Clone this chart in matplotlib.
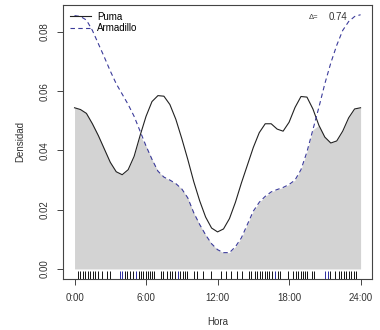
import numpy as np
import matplotlib
matplotlib.use('Agg')
import matplotlib.pyplot as plt

plt.rcParams['font.family'] = ['Liberation Sans', 'DejaVu Sans']

hours = np.arange(0, 24.5, 0.5)

# Puma density, read every half hour
puma = [0.0544, 0.0538, 0.0525, 0.0490, 0.0450, 0.0405, 0.0360, 0.0328, 0.0318, 0.0335,
        0.0380, 0.0450, 0.0515, 0.0565, 0.0585, 0.0583, 0.0555, 0.0505, 0.0440, 0.0370,
        0.0295, 0.0230, 0.0175, 0.0138, 0.0125, 0.0135, 0.0170, 0.0225, 0.0290, 0.0350,
        0.0410, 0.0460, 0.0490, 0.0490, 0.0472, 0.0465, 0.0495, 0.0545, 0.0582, 0.0580,
        0.0540, 0.0485, 0.0445, 0.0425, 0.0432, 0.0465, 0.0510, 0.0540, 0.0544]

# Armadillo density, read every half hour
armadillo = [0.0855, 0.0852, 0.0840, 0.0805, 0.0760, 0.0715, 0.0668, 0.0625, 0.0590, 0.0555,
             0.0515, 0.0465, 0.0415, 0.0370, 0.0330, 0.0310, 0.0300, 0.0288, 0.0270, 0.0240,
             0.0190, 0.0150, 0.0115, 0.0085, 0.0065, 0.0055, 0.0055, 0.0075, 0.0105, 0.0150,
             0.0195, 0.0225, 0.0245, 0.0260, 0.0268, 0.0275, 0.0285, 0.0300, 0.0335, 0.0395,
             0.0470, 0.0545, 0.0625, 0.0695, 0.0755, 0.0805, 0.0835, 0.0852, 0.0858]

# detection times (rug), in hours
puma_times = [0.28, 0.5, 0.72, 0.92, 1.11, 1.33, 1.56, 1.75, 1.94, 2.31, 2.72, 3.0,
              4.25, 4.44, 4.67, 4.94, 5.42, 5.61, 5.78, 6.0, 6.14, 6.33, 6.53, 6.67,
              7.22, 7.44, 7.72, 7.97, 8.17, 8.39, 8.89, 9.08, 9.28, 9.44, 10.06, 10.28,
              10.75, 11.44, 12.28, 12.69, 13.11, 13.67, 14.08, 14.64, 14.83, 15.11, 15.33,
              15.56, 15.75, 15.94, 16.14, 16.33, 16.56, 17.06, 17.25, 17.94, 18.36, 18.56,
              18.78, 18.97, 19.14, 19.33, 19.53, 19.89, 20.11, 21.47, 21.89, 22.17, 22.39,
              22.61, 22.81, 23.0, 23.22, 23.44, 23.64]
armadillo_times = [3.78, 3.97, 5.14, 8.72, 16.78, 21.0, 21.28]

xticks = [0, 6, 12, 18, 24]
xticklabels = ['0:00', '6:00', '12:00', '18:00', '24:00']
yticks = [0.00, 0.02, 0.04, 0.06, 0.08]
delta = 0.74

axis_col = '#444444'
blue = '#3b3b9a'

fig = plt.figure(figsize=(3.8, 3.3), dpi=100)
ax = fig.add_axes([0.166, 0.1545, 0.813, 0.8305])

overlap = np.minimum(puma, armadillo)
ax.fill_between(hours, 0, overlap, color='#d3d3d3', lw=0)
ax.plot(hours, puma, color='#222222', lw=0.8, label='Puma')
ax.plot(hours, armadillo, color=blue, lw=0.8, ls=(0, (4, 3)), label='Armadillo')

# rug marks along the bottom, 3% of the plot height
ymin, ymax = -0.0034, 0.0891
rug_h = 0.03 * (ymax - ymin)
ax.vlines(puma_times, ymin, ymin + rug_h, color='#111111', lw=0.7)
ax.vlines(armadillo_times, ymin, ymin + rug_h, color='#2a2aa0', lw=0.7)

ax.set_xlim(-0.96, 24.96)
ax.set_ylim(ymin, ymax)
ax.set_xticks(xticks)
ax.set_xticklabels(xticklabels)
ax.set_yticks(yticks)
ax.set_yticklabels([f'{v:.2f}' for v in yticks], rotation=90, va='center')
ax.tick_params(colors=axis_col, labelcolor='#333333', labelsize=7, length=4, width=0.7, pad=6)
for s in ax.spines.values():
    s.set_color(axis_col)
    s.set_linewidth(0.8)

ax.set_xlabel('Hora', fontsize=7, color='#333333', labelpad=10)
ax.set_ylabel('Densidad', fontsize=7, color='#333333', labelpad=10)

ax.legend(loc='upper left', frameon=False, fontsize=7, handlelength=2.2,
          handletextpad=0.6, borderaxespad=0.3, labelspacing=0.15,
          bbox_to_anchor=(0.0, 1.0))
ax.text(0.825, 0.955, '\u0394=', transform=ax.transAxes,
        ha='right', va='center', fontsize=5.5, color='#333333')
ax.text(0.858, 0.955, '%.2f' % delta, transform=ax.transAxes,
        ha='left', va='center', fontsize=7, color='#333333')

fig.savefig('out.png', dpi=100)
